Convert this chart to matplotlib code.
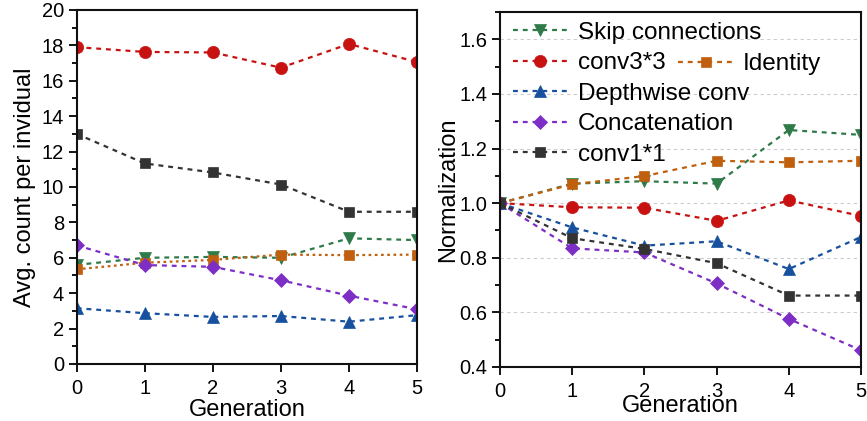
import numpy as np
import matplotlib
matplotlib.use("Agg")
import matplotlib.pyplot as plt
from matplotlib.ticker import MultipleLocator

plt.rcParams["font.family"] = ["Liberation Sans", "DejaVu Sans"]

generations = [0, 1, 2, 3, 4, 5]

# Average number of each operation per individual, by generation
skip_conn = [5.6, 6.0, 6.05, 6.0, 7.1, 7.0]
conv3x3 = [17.9, 17.63, 17.6, 16.74, 18.08, 17.06]
identity = [5.35, 5.72, 5.88, 6.18, 6.15, 6.18]
depthwise = [3.15, 2.87, 2.66, 2.71, 2.39, 2.76]
concat = [6.7, 5.59, 5.49, 4.73, 3.86, 3.09]
conv1x1 = [13.0, 11.33, 10.82, 10.14, 8.6, 8.6]

labels = ["Skip connections", "conv3*3", "Identity", "Depthwise conv",
          "Concatenation", "conv1*1"]
series = [skip_conn, conv3x3, identity, depthwise, concat, conv1x1]
colors = ["#2E7A48", "#C81212", "#C0600F", "#17509E", "#7D2EC4", "#333333"]
markers = ["v", "o", "s", "^", "D", "s"]
msizes = [8.8, 8.8, 7.8, 8.8, 6.8, 7.8]

fig = plt.figure(figsize=(8.67, 4.21), dpi=100)
ax1 = fig.add_axes([0.0885, 0.1354, 0.3925, 0.8409])
ax2 = fig.add_axes([0.5767, 0.1283, 0.4164, 0.8432])

dash = (0, (2.2, 2.2))
dot = (0, (1.2, 1.6))

lines = {}
for lab, vals, c, m, ms in zip(labels, series, colors, markers, msizes):
    vals = np.asarray(vals, dtype=float)
    ls_left = dot if lab == "Identity" else dash
    ax1.plot(generations, vals, color=c, marker=m, ms=ms, lw=1.6,
             linestyle=ls_left, markeredgecolor=c, markeredgewidth=0.5)
    norm = vals / vals[0]
    ln, = ax2.plot(generations, norm, color=c, marker=m, ms=ms, lw=1.6,
                   linestyle=dash, markeredgecolor=c, markeredgewidth=0.5)
    lines[lab] = ln

for ax in (ax1, ax2):
    for s in ax.spines.values():
        s.set_linewidth(1.5)
        s.set_color("#111111")
    ax.set_xlim(0, 5)
    ax.xaxis.set_major_locator(MultipleLocator(1))
    ax.tick_params(axis="both", which="major", direction="out", length=6,
                   width=1.3, labelsize=14.5)
    ax.tick_params(axis="x", which="major", pad=5)
    ax.tick_params(axis="y", which="major", pad=3)
    ax.tick_params(axis="y", which="minor", direction="out", length=3.5,
                   width=1.3)
    ax.tick_params(axis="x", which="minor", bottom=False)

ax1.set_ylim(0, 20)
ax1.yaxis.set_major_locator(MultipleLocator(2))
ax1.yaxis.set_minor_locator(MultipleLocator(1))
ax1.set_ylabel("Avg. count per invidual", fontsize=17, labelpad=4)
ax1.set_xlabel("Generation", fontsize=17)
ax1.xaxis.set_label_coords(0.5, -0.1)

ax2.set_ylim(0.4, 1.7)
ax2.yaxis.set_major_locator(MultipleLocator(0.2))
ax2.yaxis.set_minor_locator(MultipleLocator(0.1))
ax2.yaxis.grid(True, which="major", color="#CCCCCC", linestyle=(0, (3, 3)),
               lw=0.8)
ax2.set_axisbelow(True)
ax2.set_ylabel("Normalization", fontsize=17)
ax2.yaxis.set_label_coords(-0.113, 0.5)
ax2.set_xlabel("Generation", fontsize=17)
ax2.xaxis.set_label_coords(0.5, -0.078)

main_labels = ["Skip connections", "conv3*3", "Depthwise conv",
               "Concatenation", "conv1*1"]
leg1 = ax2.legend([lines[l] for l in main_labels], main_labels,
                  loc="upper left", bbox_to_anchor=(0.035, 0.973),
                  frameon=False, fontsize=17.5, handlelength=2.25,
                  handletextpad=0.42, labelspacing=0.35, borderpad=0,
                  borderaxespad=0)
ax2.add_artist(leg1)
ax2.legend([lines["Identity"]], ["Identity"], loc="center left",
           bbox_to_anchor=(0.494, 0.853), frameon=False, fontsize=17.5,
           handlelength=2.25, handletextpad=0.42, borderpad=0,
           borderaxespad=0)

fig.savefig("out.png", dpi=100)
